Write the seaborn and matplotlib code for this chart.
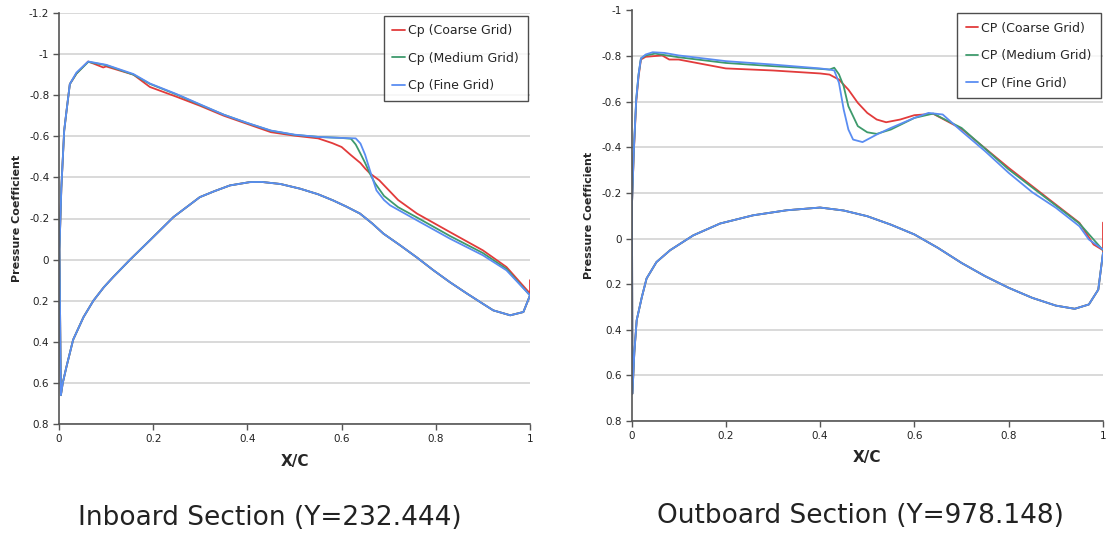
import numpy as np
import pandas as pd
import matplotlib
matplotlib.use("Agg")
import matplotlib.pyplot as plt
import seaborn as sns
from matplotlib.ticker import FuncFormatter

# ---------------- data: Inboard section ----------------
in_lower_x = [0.004, 0.008, 0.016, 0.03, 0.052, 0.073, 0.095, 0.115, 0.151, 0.193, 0.243, 0.299,
              0.33, 0.363, 0.405, 0.43, 0.47, 0.512, 0.55, 0.582, 0.61, 0.639, 0.665, 0.689, 0.724,
              0.76, 0.795, 0.83, 0.866, 0.9, 0.922, 0.958, 0.986, 1.0]
in_lower_cp = [0.66, 0.6, 0.52, 0.39, 0.28, 0.2, 0.135, 0.085, 0.0, -0.094, -0.207, -0.304,
               -0.333, -0.361, -0.377, -0.378, -0.368, -0.345, -0.318, -0.288, -0.258, -0.224,
               -0.176, -0.126, -0.07, -0.01, 0.052, 0.11, 0.165, 0.215, 0.247, 0.271, 0.255, 0.174]

in_fine_x = [1.0, 0.95, 0.9, 0.83, 0.76, 0.703, 0.69, 0.674, 0.66, 0.65, 0.64, 0.63, 0.6, 0.55,
             0.5, 0.45, 0.4, 0.35, 0.3, 0.25, 0.193, 0.158, 0.1, 0.062, 0.037, 0.023, 0.016, 0.011,
             0.005, 0.001]
in_fine_cp = [0.174, 0.052, -0.021, -0.102, -0.191, -0.264, -0.29, -0.337, -0.435, -0.51, -0.565,
              -0.59, -0.592, -0.597, -0.608, -0.628, -0.665, -0.705, -0.755, -0.805, -0.857,
              -0.903, -0.948, -0.964, -0.91, -0.854, -0.724, -0.627, -0.35, -0.05]

in_med_x = [1.0, 0.95, 0.9, 0.83, 0.76, 0.72, 0.69, 0.67, 0.66, 0.65, 0.64, 0.63, 0.62, 0.6,
            0.55, 0.5, 0.45, 0.4, 0.35, 0.3, 0.25, 0.193, 0.158, 0.1, 0.062, 0.037, 0.023, 0.016,
            0.011, 0.005, 0.001]
in_med_cp = [0.174, 0.045, -0.032, -0.115, -0.205, -0.255, -0.31, -0.375, -0.419, -0.47, -0.516,
             -0.56, -0.588, -0.592, -0.597, -0.607, -0.627, -0.664, -0.705, -0.753, -0.803, -0.855,
             -0.9, -0.946, -0.962, -0.905, -0.854, -0.724, -0.627, -0.35, -0.05]

in_coarse_x = [1.0, 0.95, 0.9, 0.83, 0.76, 0.72, 0.68, 0.66, 0.65, 0.64, 0.62, 0.6, 0.58,
               0.55, 0.5, 0.45, 0.4, 0.35, 0.3, 0.25, 0.193, 0.158, 0.1, 0.094, 0.062, 0.037,
               0.023, 0.016, 0.011, 0.005, 0.001]
in_coarse_cp = [0.165, 0.036, -0.045, -0.134, -0.224, -0.29, -0.386, -0.42, -0.443, -0.47, -0.508,
                -0.548, -0.567, -0.59, -0.603, -0.62, -0.66, -0.7, -0.748, -0.792, -0.84, -0.9,
                -0.94, -0.935, -0.964, -0.905, -0.854, -0.724, -0.627, -0.35, -0.05]
in_coarse_te_cp = 0.1

# ---------------- data: Outboard section ----------------
out_lower_x = [0.002, 0.006, 0.011, 0.022, 0.032, 0.053, 0.082, 0.131, 0.188, 0.258, 0.329, 0.4,
               0.45, 0.5, 0.55, 0.6, 0.65, 0.7, 0.75, 0.8, 0.85, 0.9, 0.94, 0.97, 0.99, 1.0]
out_lower_cp = [0.68, 0.5, 0.358, 0.256, 0.175, 0.103, 0.051, -0.014, -0.066, -0.102, -0.124,
                -0.136, -0.123, -0.098, -0.061, -0.018, 0.041, 0.107, 0.165, 0.216, 0.26, 0.294,
                0.308, 0.289, 0.224, 0.063]

out_fine_x = [1.0, 0.97, 0.95, 0.9, 0.85, 0.8, 0.75, 0.7, 0.66, 0.63, 0.6, 0.55, 0.52, 0.49, 0.47,
              0.46, 0.45, 0.44, 0.43, 0.42, 0.4, 0.3, 0.2, 0.1, 0.07, 0.045, 0.03, 0.02, 0.015, 0.01,
              0.005, 0.001]
out_fine_cp = [0.048, 0.004, -0.054, -0.135, -0.203, -0.288, -0.383, -0.471, -0.544, -0.551, -0.529,
               -0.485, -0.456, -0.423, -0.434, -0.478, -0.566, -0.683, -0.737, -0.741, -0.746,
               -0.763, -0.778, -0.803, -0.814, -0.817, -0.807, -0.79, -0.72, -0.61, -0.39, -0.15]

out_med_x = [1.0, 0.95, 0.9, 0.8, 0.7, 0.64, 0.6, 0.55, 0.52, 0.5, 0.48, 0.46, 0.45, 0.44, 0.43,
             0.42, 0.4, 0.3, 0.2, 0.1, 0.05, 0.03, 0.02, 0.015, 0.01, 0.005, 0.001]
out_med_cp = [0.051, -0.066, -0.145, -0.303, -0.485, -0.548, -0.529, -0.478, -0.459, -0.466, -0.493,
              -0.58, -0.668, -0.72, -0.749, -0.741, -0.744, -0.756, -0.77, -0.795, -0.811, -0.803,
              -0.79, -0.72, -0.61, -0.39, -0.15]

out_coarse_x = [1.0, 0.98, 0.95, 0.9, 0.8, 0.7, 0.64, 0.6, 0.57, 0.54, 0.52, 0.5, 0.48, 0.46, 0.44,
                0.42, 0.4, 0.3, 0.2, 0.1, 0.08, 0.065, 0.03, 0.02, 0.015, 0.01, 0.005, 0.001]
out_coarse_cp = [0.051, 0.026, -0.069, -0.149, -0.31, -0.481, -0.547, -0.541, -0.522, -0.51, -0.522,
                 -0.551, -0.595, -0.653, -0.697, -0.719, -0.724, -0.737, -0.746, -0.785, -0.785,
                 -0.803, -0.797, -0.785, -0.71, -0.6, -0.38, -0.15]
out_coarse_te_cp = -0.07

in_labels = ["Cp (Coarse Grid)", "Cp (Medium Grid)", "Cp (Fine Grid)"]
out_labels = ["CP (Coarse Grid)", "CP (Medium Grid)", "CP (Fine Grid)"]
y_ticks_in = [-1.2, -1.0, -0.8, -0.6, -0.4, -0.2, 0.0, 0.2, 0.4, 0.6, 0.8]
y_ticks_out = [-1.0, -0.8, -0.6, -0.4, -0.2, 0.0, 0.2, 0.4, 0.6, 0.8]
x_ticks = [0, 0.2, 0.4, 0.6, 0.8, 1.0]
titles = ["Inboard Section (Y=232.444)", "Outboard Section (Y=978.148)"]
colors = ["#e23b3b", "#3e9a6c", "#5a8df2"]


def build(labels, uppers, lower_x, lower_cp, coarse_te):
    frames = []
    for i, (lab, (ux, ucp)) in enumerate(zip(labels, uppers)):
        xs = list(ux) + list(lower_x)
        cs = list(ucp) + list(lower_cp)
        if i == 0:
            xs.append(lower_x[-1])
            cs.append(coarse_te)
        frames.append(pd.DataFrame({"x": xs, "cp": cs, "grid": lab}))
    return pd.concat(frames, ignore_index=True)


df_in = build(in_labels, [(in_coarse_x, in_coarse_cp), (in_med_x, in_med_cp), (in_fine_x, in_fine_cp)],
              in_lower_x, in_lower_cp, in_coarse_te_cp)
df_out = build(out_labels, [(out_coarse_x, out_coarse_cp), (out_med_x, out_med_cp), (out_fine_x, out_fine_cp)],
               out_lower_x, out_lower_cp, out_coarse_te_cp)

sns.set_theme(style="white")
plt.rcParams["font.family"] = ["DejaVu Sans"]
plt.rcParams["axes.unicode_minus"] = False

W, H = 1106, 537
fig = plt.figure(figsize=(W / 100, H / 100), dpi=100)
ax1 = fig.add_axes([59 / W, 1 - 424 / H, (530 - 59) / W, (424 - 13) / H])
ax2 = fig.add_axes([631.5 / W, 1 - 421 / H, (1103 - 631.5) / W, (421 - 10.5) / H])

fmt = FuncFormatter(lambda v, p: "%g" % round(v, 2))

for ax, df, labels, yt, title, tx, ty, xly, yly in [
    (ax1, df_in, in_labels, y_ticks_in, titles[0], 270, 518, -0.073, -0.078),
    (ax2, df_out, out_labels, y_ticks_out, titles[1], 860, 516, -0.07, -0.079),
]:
    sns.lineplot(data=df, x="x", y="cp", hue="grid", hue_order=labels,
                 palette=colors, sort=False, estimator=None, linewidth=1.3, ax=ax)
    ax.set_xlim(0, 1)
    ax.set_ylim(yt[-1], yt[0])
    ax.set_yticks(yt)
    ax.set_xticks(x_ticks)
    ax.xaxis.set_major_formatter(fmt)
    ax.yaxis.set_major_formatter(fmt)
    ax.yaxis.grid(True, color="#d9d9d9", linewidth=1.4)
    ax.xaxis.grid(False)
    ax.set_axisbelow(True)
    for s in ["top", "right"]:
        ax.spines[s].set_visible(False)
    for s in ["left", "bottom"]:
        ax.spines[s].set_color("#555555")
        ax.spines[s].set_linewidth(1.2)
    ax.tick_params(axis="both", direction="out", length=4, width=1, color="#555555",
                   labelsize=7.5, labelcolor="#222222", left=True, bottom=True, pad=3)
    ax.set_xlabel("X/C", fontsize=11, fontweight="bold")
    ax.set_ylabel("Pressure Coefficient", fontsize=8, fontweight="bold")
    ax.xaxis.set_label_coords(0.5, xly)
    ax.yaxis.set_label_coords(yly, 0.5)
    leg = ax.legend(loc="upper right", fontsize=9, frameon=True, fancybox=False,
                    handlelength=1.0, handletextpad=0.25, borderaxespad=0.2,
                    borderpad=0.7, labelspacing=1.15)
    leg.get_frame().set_edgecolor("#222222")
    leg.get_frame().set_linewidth(1.0)
    fig.text(tx / W, 1 - ty / H, title, ha="center", va="center", fontsize=19,
             color="#222222")

fig.savefig("out.png", dpi=100)
